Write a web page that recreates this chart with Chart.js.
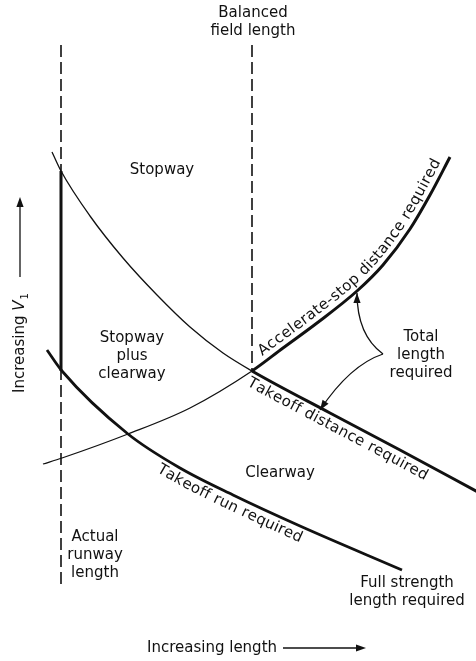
<!DOCTYPE html>
<html>
<head>
<meta charset="utf-8">
<script src="https://cdn.jsdelivr.net/npm/chart.js@4"></script>
<style>
  html, body { margin: 0; padding: 0; background: #fff; }
  canvas { display: block; }
</style>
</head>
<body>
<canvas id="bflChart" width="476" height="661"></canvas>
<script>
// Schematic values (arbitrary length / V1 units)
const tdLength = [52, 61, 90, 123, 157, 190, 223, 252, 330, 400, 478];
const tdV1     = [509, 490, 445, 403, 366, 334, 308, 290, 248, 211, 169];

const asLength = [43, 62, 128, 190, 252, 283, 317, 357, 383, 410, 430, 450];
const asV1     = [197, 203, 227, 253, 290, 313, 338, 370, 396, 432, 466, 504];

const trLength = [47, 62, 128, 180, 233, 300, 402];
const trV1     = [311, 290, 227, 193, 166, 135, 91];

const runwayLength = 61;
const balancedLength = 252;
const runwaySolidV1 = [490, 290];
const runwayDashV1 = [616, 76];
const balancedDashV1 = [616, 290];

const ink = '#111';
const FONT = '15px "DejaVu Sans"';

const toPts = (xs, ys) => xs.map((x, i) => ({ x: x, y: ys[i] }));
const thickAfter = x0 => ctx => (ctx.p0.parsed.x >= x0 ? 3 : 1.3);

const curve = (data, seg) => ({
  data: data,
  showLine: true,
  borderColor: ink,
  borderWidth: 1.3,
  pointRadius: 0,
  cubicInterpolationMode: 'monotone',
  segment: seg ? { borderWidth: seg } : undefined
});

const dashed = (x, ys) => ({
  data: ys.map(y => ({ x: x, y: y })),
  showLine: true,
  borderColor: ink,
  borderWidth: 1.6,
  borderDash: [12, 5],
  pointRadius: 0
});

// --- helpers for text along a curve ---
function sampleCurve(meta) {
  const pts = meta.data, out = [];
  for (let i = 0; i < pts.length - 1; i++) {
    const a = pts[i], b = pts[i + 1];
    const c1x = a.cp2x ?? a.x, c1y = a.cp2y ?? a.y;
    const c2x = b.cp1x ?? b.x, c2y = b.cp1y ?? b.y;
    for (let k = 0; k < 24; k++) {
      const t = k / 24, m = 1 - t;
      out.push({
        x: m * m * m * a.x + 3 * m * m * t * c1x + 3 * m * t * t * c2x + t * t * t * b.x,
        y: m * m * m * a.y + 3 * m * m * t * c1y + 3 * m * t * t * c2y + t * t * t * b.y
      });
    }
  }
  const last = pts[pts.length - 1];
  out.push({ x: last.x, y: last.y });
  out[0].s = 0;
  for (let i = 1; i < out.length; i++) {
    out[i].s = out[i - 1].s + Math.hypot(out[i].x - out[i - 1].x, out[i].y - out[i - 1].y);
  }
  return out;
}

function pointAt(path, s) {
  let i = 1;
  while (i < path.length - 1 && path[i].s < s) i++;
  const p = path[i - 1], q = path[i];
  const f = (s - p.s) / ((q.s - p.s) || 1);
  return { x: p.x + (q.x - p.x) * f, y: p.y + (q.y - p.y) * f, a: Math.atan2(q.y - p.y, q.x - p.x) };
}

function sAtX(path, x) {
  let i = 1;
  while (i < path.length - 1 && path[i].x < x) i++;
  const p = path[i - 1], q = path[i];
  const f = (x - p.x) / ((q.x - p.x) || 1);
  return p.s + (q.s - p.s) * f;
}

function curveText(ctx, path, text, x0, x1, off) {
  const chars = [...text];
  const widths = chars.map(c => ctx.measureText(c).width);
  const total = widths.reduce((a, b) => a + b, 0);
  const s0 = sAtX(path, x0), s1 = sAtX(path, x1);
  const gap = (s1 - s0 - total) / (chars.length - 1);
  let s = s0;
  chars.forEach((c, i) => {
    const q = pointAt(path, s + widths[i] / 2);
    ctx.save();
    ctx.translate(q.x, q.y);
    ctx.rotate(q.a);
    ctx.fillText(c, 0, off);
    ctx.restore();
    s += widths[i] + gap;
  });
}

function arrowHead(ctx, x, y, ang) {
  ctx.save();
  ctx.translate(x, y);
  ctx.rotate(ang);
  ctx.beginPath();
  ctx.moveTo(0, 0);
  ctx.lineTo(-10, -3.6);
  ctx.lineTo(-10, 3.6);
  ctx.closePath();
  ctx.fill();
  ctx.restore();
}

const labels = [
  { t: ['Balanced', 'field length'], x: 253, y: 648 },
  { t: ['Stopway'], x: 162, y: 491 },
  { t: ['Stopway', 'plus', 'clearway'], x: 132, y: 323 },
  { t: ['Total', 'length', 'required'], x: 421, y: 324 },
  { t: ['Clearway'], x: 280, y: 188 },
  { t: ['Actual', 'runway', 'length'], x: 95, y: 124 },
  { t: ['Full strength', 'length required'], x: 407, y: 78 }
];

const figurePlugin = {
  id: 'figure',
  afterDatasetsDraw(chart) {
    const ctx = chart.ctx;
    const sx = chart.scales.x, sy = chart.scales.y;
    const px = v => sx.getPixelForValue(v), py = v => sy.getPixelForValue(v);
    ctx.save();
    ctx.fillStyle = ink;
    ctx.strokeStyle = ink;
    ctx.font = FONT;
    ctx.textAlign = 'center';
    ctx.textBaseline = 'middle';

    labels.forEach(l => {
      l.t.forEach((line, i) => ctx.fillText(line, px(l.x), py(l.y) + i * 18));
    });

    // labels following the curves
    curveText(ctx, sampleCurve(chart.getDatasetMeta(1)), 'Accelerate-stop distance required', px(266), px(446), -10);
    curveText(ctx, sampleCurve(chart.getDatasetMeta(0)), 'Takeoff distance required', px(254), px(432), 11);
    curveText(ctx, sampleCurve(chart.getDatasetMeta(2)), 'Takeoff run required', px(164), px(306), 11);

    // "Total length required" pointers
    ctx.lineWidth = 1.3;
    const start = { x: px(383), y: py(307) };
    [[{ x: px(357), y: py(326) }, { x: px(357), y: py(368) }],
     [{ x: px(350), y: py(296) }, { x: px(320), y: py(251) }]].forEach(([c, e]) => {
      ctx.beginPath();
      ctx.moveTo(start.x, start.y);
      ctx.quadraticCurveTo(c.x, c.y, e.x, e.y);
      ctx.stroke();
      arrowHead(ctx, e.x, e.y, Math.atan2(e.y - c.y, e.x - c.x));
    });

    // x axis caption
    ctx.textAlign = 'left';
    ctx.fillText('Increasing length', px(147), py(13));
    ctx.beginPath();
    ctx.moveTo(px(283), py(13));
    ctx.lineTo(px(360), py(13));
    ctx.stroke();
    arrowHead(ctx, px(366), py(13), 0);

    // y axis caption
    ctx.save();
    ctx.translate(px(20), py(268));
    ctx.rotate(-Math.PI / 2);
    ctx.fillText('Increasing ', 0, 0);
    let w = ctx.measureText('Increasing ').width;
    ctx.font = 'italic ' + FONT;
    ctx.fillText('V', w, 0);
    w += ctx.measureText('V').width;
    ctx.font = '10px "DejaVu Sans"';
    ctx.fillText('1', w + 1, 5);
    ctx.restore();
    ctx.beginPath();
    ctx.moveTo(px(20), py(384));
    ctx.lineTo(px(20), py(458));
    ctx.stroke();
    arrowHead(ctx, px(20), py(464), -Math.PI / 2);

    ctx.restore();
  }
};

new Chart(document.getElementById('bflChart'), {
  type: 'scatter',
  data: {
    datasets: [
      curve(toPts(tdLength, tdV1), thickAfter(balancedLength)),
      curve(toPts(asLength, asV1), thickAfter(balancedLength)),
      Object.assign(curve(toPts(trLength, trV1)), { borderWidth: 2.8 }),
      { data: runwaySolidV1.map(y => ({ x: runwayLength, y: y })), showLine: true, borderColor: ink, borderWidth: 3, pointRadius: 0 },
      dashed(runwayLength, runwayDashV1),
      dashed(balancedLength, balancedDashV1)
    ]
  },
  options: {
    responsive: false,
    animation: false,
    devicePixelRatio: 1,
    layout: { padding: 0 },
    plugins: { legend: { display: false }, tooltip: { enabled: false }, title: { display: false } },
    scales: {
      x: { type: 'linear', min: 0, max: 476, display: false },
      y: { type: 'linear', min: 0, max: 661, display: false }
    }
  },
  plugins: [figurePlugin]
});
</script>
</body>
</html>
